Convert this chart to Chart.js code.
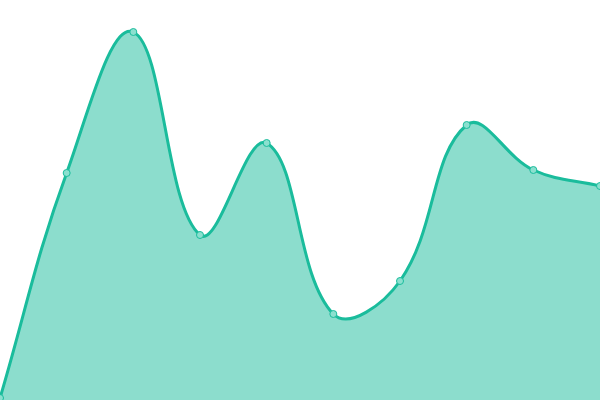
<!DOCTYPE html>
<html>
<head>
<meta charset="utf-8">
<script src="https://cdn.jsdelivr.net/npm/chart.js@4/dist/chart.umd.min.js"></script>
<style>
html,body{margin:0;padding:0;background:#fff;}
canvas{display:block;}
</style>
</head>
<body>
<canvas id="c" width="600" height="400"></canvas>
<script>
const categories = ["1","2","3","4","5","6","7","8","9","10"];
const values = [2, 227, 368, 165, 257, 86, 119, 275, 230, 214];
const yMin = 0;
const yMax = 400;

new Chart(document.getElementById('c'), {
  type: 'line',
  data: {
    labels: categories,
    datasets: [{
      data: values,
      fill: 'start',
      backgroundColor: 'rgba(26,188,156,0.5)',
      borderColor: '#1abc9c',
      borderWidth: 3,
      tension: 0.4,
      pointRadius: 3.5,
      pointBackgroundColor: '#8be0cf',
      pointBorderColor: '#1abc9c',
      pointBorderWidth: 1
    }]
  },
  options: {
    responsive: false,
    animation: false,
    layout: { padding: 0, autoPadding: false },
    plugins: { legend: { display: false }, tooltip: { enabled: false } },
    scales: {
      x: { display: false, offset: false },
      y: { display: false, min: yMin, max: yMax }
    }
  }
});
</script>
</body>
</html>
